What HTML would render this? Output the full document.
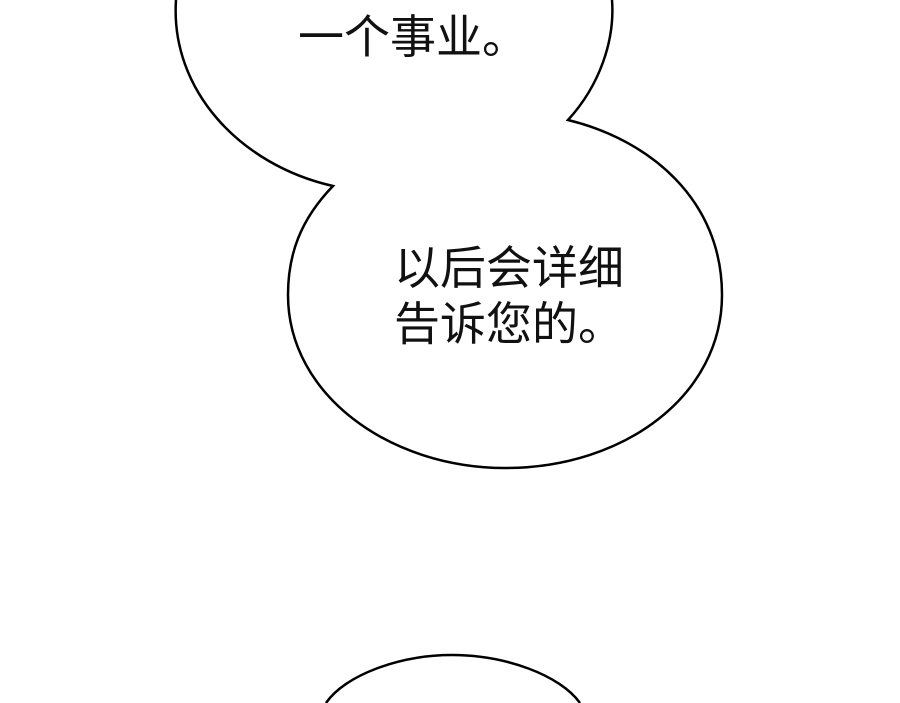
<!DOCTYPE html>
<html><head><meta charset="utf-8"><style>
html,body{margin:0;padding:0;background:#fff;width:900px;height:703px;overflow:hidden}
svg{position:absolute;left:0;top:0}
.t{position:absolute;font-family:"Liberation Sans","Noto Sans CJK SC",sans-serif;font-size:46px;color:#111;line-height:56px;white-space:nowrap}
</style></head><body>
<svg width="900" height="703" viewBox="0 0 900 703">
<path d="M176,0 C170,90 240,165 333,186 C300,220 288,255 288,295 C288,395 390,468 505,468 C625,468 722,395 722,295 C722,200 650,140 568,120 C600,85 615,40 612,0"
 fill="#fff" stroke="#000" stroke-width="2.5"/>
<path d="M326,703 C345,675 400,655 452,655 C505,655 560,675 580,703" fill="#fff" stroke="#000" stroke-width="2.5"/>
</svg>
<div class="t" style="left:298px;top:9px">一个事业。</div>
<div class="t" style="left:394px;top:240px">以后会详细<br>告诉您的。</div>
</body></html>
